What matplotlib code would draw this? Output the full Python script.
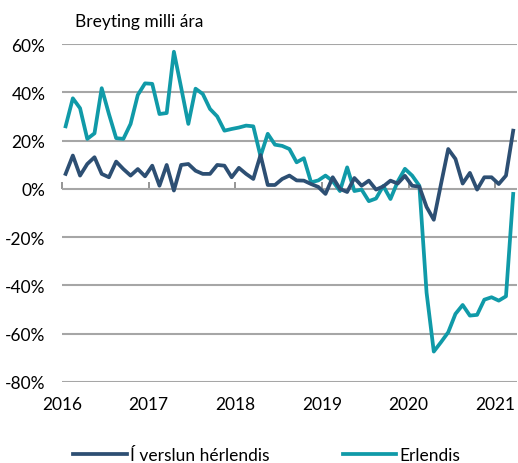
import numpy as np
import matplotlib
matplotlib.use('Agg')
import matplotlib.pyplot as plt

# monthly values, Jan 2016 - Mar 2021 (% change year on year)
herlendis = [6.2, 13.8, 5.5, 10.3, 13.1, 6.2, 4.8, 11.3, 8.2, 5.5, 8.2, 5.2,
             9.6, 1.3, 9.9, -0.7, 9.9, 10.3, 7.5, 6.2, 6.2, 9.9, 9.6, 4.8,
             8.7, 6.2, 4.1, 14.0, 1.6, 1.6, 4.1, 5.5, 3.5, 3.4, 2.0, 0.8,
             -2.1, 4.8, 0.0, -1.3, 4.5, 1.3, 3.4, -0.3, 1.0, 3.4, 2.2, 5.4,
             1.3, 0.9, -7.5, -12.8, 2.0, 16.5, 12.4, 2.2, 6.6, -0.3, 4.8, 4.8,
             2.0, 5.5, 24.1]
erlendis = [25.9, 37.5, 33.4, 20.7, 23.0, 41.7, 31.0, 21.0, 20.7, 26.9, 38.9, 43.7,
            43.5, 31.0, 31.4, 56.8, 42.0, 26.9, 41.5, 39.3, 33.1, 30.0, 24.1, 24.8,
            25.4, 26.2, 25.9, 13.5, 22.8, 18.3, 17.8, 16.5, 11.0, 12.7, 2.7, 3.5,
            5.5, 3.2, -0.9, 8.9, -0.9, -0.3, -5.1, -4.0, 1.2, -4.2, 3.0, 8.3,
            5.5, 1.3, -43.0, -67.4, -63.5, -59.4, -51.8, -48.1, -52.5, -52.2, -45.9, -44.9,
            -46.3, -44.5, -2.1]
years = [2016, 2017, 2018, 2019, 2020, 2021]
yticks = [-80, -60, -40, -20, 0, 20, 40, 60]

dark = '#2d4f73'
teal = '#109aa8'
grid = '#a6a6a6'

plt.rcParams['font.family'] = ['Lato', 'DejaVu Sans']

x = 2016 + (np.arange(len(herlendis)) + 0.5) / 12

fig = plt.figure(figsize=(5.18, 4.64), dpi=100)
ax = fig.add_axes([0.1197, 0.1746, 0.878, 0.7284])

for y in yticks:
    ax.axhline(y, color=grid, linewidth=1.5, zorder=1)

ax.plot(x, herlendis, color=dark, linewidth=2.7, label='Í verslun hérlendis',
        solid_joinstyle='round', zorder=3)
ax.plot(x, erlendis, color=teal, linewidth=2.7, label='Erlendis',
        solid_joinstyle='round', zorder=2)

ax.set_xlim(2016, 2016 + len(herlendis) / 12)
ax.set_ylim(-80, 60)
ax.set_yticks(yticks)
ax.set_yticklabels([f'{v}%' for v in yticks])
ax.set_xticks(years)
ax.set_xticklabels([str(v) for v in years])
ax.tick_params(axis='both', length=0, labelsize=12.5, colors='black')
ax.tick_params(axis='y', pad=12)
ax.tick_params(axis='x', pad=10)
for s in ax.spines.values():
    s.set_visible(False)

# tick marks on the zero line
sec = ax.secondary_xaxis(80 / 140)
sec.set_xticks(years, labels=[''] * len(years))
sec.tick_params(axis='x', direction='out', length=5, color='#8c8c8c', width=1.3)
for s in sec.spines.values():
    s.set_visible(False)

fig.text(0.145, 0.952, 'Breyting milli ára', fontsize=12.5, ha='left', va='center')

fig.legend(loc='center', bbox_to_anchor=(0.515, 0.017), ncol=2, frameon=False,
           fontsize=12.5, handlelength=3.1, handletextpad=0.2, columnspacing=4.2)

fig.savefig('out.png', dpi=100)
